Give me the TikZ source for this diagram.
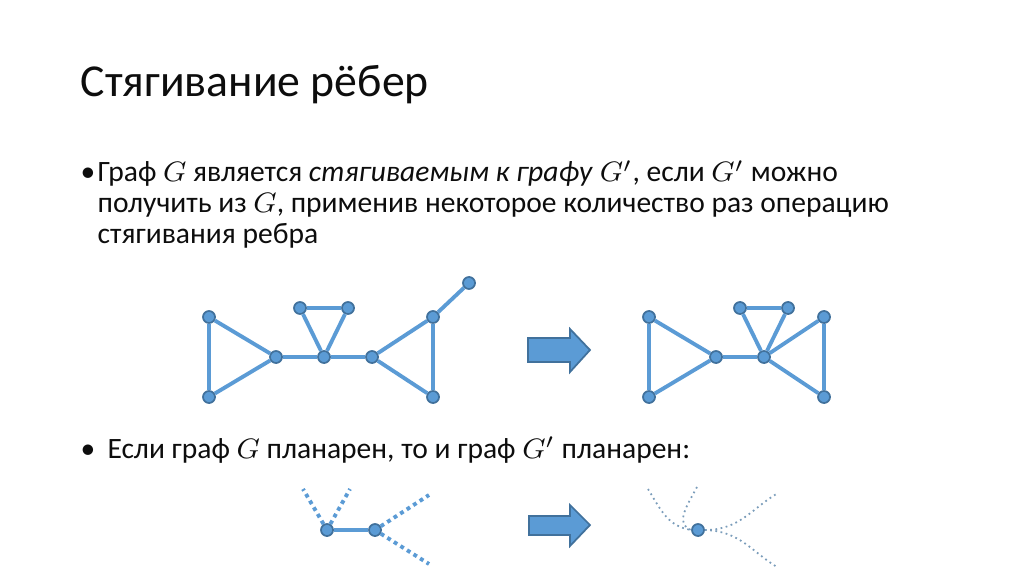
\documentclass[tikz,border=0pt]{standalone}
\usepackage{fontspec}
\setmainfont{Carlito}
\usepackage{tikz}
\usetikzlibrary{arrows.meta,positioning,calc}
\definecolor{gblue}{RGB}{91,155,213}
\definecolor{gedge}{RGB}{65,113,156}
\definecolor{gtext}{RGB}{13,13,13}
\tikzset{
  vertex/.style={circle,fill=gblue,draw=gedge,line width=0.5pt,minimum size=0.12cm,inner sep=0pt},
  edge/.style={gblue,line width=1.1pt},
  dotedge/.style={gblue,line width=1.1pt,dash pattern=on 1.1pt off 1.1pt},
  thinedge/.style={gedge!70,line width=0.5pt,densely dotted},
  bigarrow/.style={fill=gblue,draw=gedge,line width=0.5pt},
  txt/.style={anchor=base west,inner sep=0pt,text=gtext,font=\fontsize{8.4pt}{8.82pt}\selectfont,align=left}
}
\begin{document}
\begin{tikzpicture}[x=0.01cm,y=-0.01cm]
  \useasboundingbox (0,0) rectangle (1024,576);
  % Title
  \node[anchor=base west,inner sep=0pt,text=gtext,font=\fontsize{13pt}{14pt}\selectfont] (title) at (80,97)
    {Стягивание рёбер};
  % First bullet
  \node[txt] (bulletA) at (80,182) {\textbullet};
  \node[txt] (defn) at (97,244)
    {Граф $G$ является \textit{стягиваемым к графу} $G'$, если $G'$ можно\\
     получить из $G$, применив некоторое количество раз операцию\\
     стягивания ребра};
  % Second bullet
  \node[txt] (bulletB) at (80,458) {\textbullet};
  \node[txt] (planar) at (107,458) {Если граф $G$ планарен, то и граф $G'$ планарен:};
  % Graph before contraction
  \node[vertex] (a1) at (209,317) {};
  \node[vertex] (b1) at (209,397) {};
  \node[vertex] (c1) at (276,357) {};
  \node[vertex] (d1) at (324,357) {};
  \node[vertex] (e1) at (300,308) {};
  \node[vertex] (f1) at (348,308) {};
  \node[vertex] (h1) at (372,357) {};
  \node[vertex] (i1) at (433,317) {};
  \node[vertex] (j1) at (433,397) {};
  \node[vertex] (k1) at (469,283) {};
  \draw[edge] (a1) -- (b1) (a1) -- (c1) (b1) -- (c1) (c1) -- (d1)
    (d1) -- (e1) (d1) -- (f1) (e1) -- (f1) (d1) -- (h1)
    (h1) -- (i1) (h1) -- (j1) (i1) -- (j1) (i1) -- (k1);
  % Arrow
  \draw[bigarrow] (528,338) -- (570,338) -- (570,329) -- (590,350)
    -- (570,372) -- (570,362) -- (528,362) -- cycle;
  % Graph after contraction
  \node[vertex] (a2) at (649,317) {};
  \node[vertex] (b2) at (649,397) {};
  \node[vertex] (c2) at (716,357) {};
  \node[vertex] (d2) at (764,357) {};
  \node[vertex] (e2) at (740,308) {};
  \node[vertex] (f2) at (788,308) {};
  \node[vertex] (g2) at (824,317) {};
  \node[vertex] (h2) at (824,397) {};
  \draw[edge] (a2) -- (b2) (a2) -- (c2) (b2) -- (c2) (c2) -- (d2)
    (d2) -- (e2) (d2) -- (f2) (e2) -- (f2) (d2) -- (g2)
    (d2) -- (h2) (g2) -- (h2);
  % Edge before contraction (planar)
  \node[vertex] (u) at (327,530) {};
  \node[vertex] (v) at (375,530) {};
  \coordinate (u1) at (303,489);
  \coordinate (u2) at (350,489);
  \coordinate (v1) at (429,495);
  \coordinate (v2) at (429,564);
  \draw[edge] (u) -- (v);
  \draw[dotedge] (u) -- (u1) (u) -- (u2) (v) -- (v1) (v) -- (v2);
  % Arrow
  \draw[bigarrow] (529,516) -- (570,516) -- (570,505) -- (590,525)
    -- (570,546) -- (570,535) -- (529,535) -- cycle;
  % Contracted vertex
  \node[vertex] (w) at (698,530) {};
  \coordinate (w1) at (648,489);
  \coordinate (w2) at (697,487);
  \coordinate (w3) at (778,493);
  \coordinate (w4) at (777,567);
  \draw[thinedge] (w1) .. controls (662,512) and (668,526) .. (w.west);
  \draw[thinedge] (w2) .. controls (688,504) and (674,524) .. (w.west);
  \draw[thinedge] (w.east) .. controls (740,530) and (752,508) .. (w3);
  \draw[thinedge] (w.east) .. controls (740,531) and (752,552) .. (w4);
\end{tikzpicture}
\end{document}
